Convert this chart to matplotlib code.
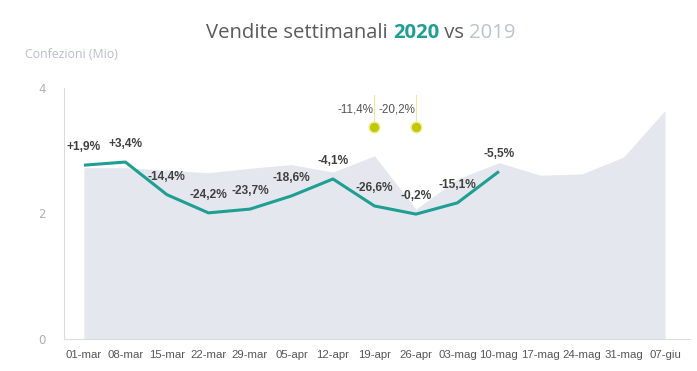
import matplotlib
matplotlib.use("Agg")
import matplotlib.pyplot as plt
from matplotlib import font_manager as fm

names = {f.name for f in fm.fontManager.ttflist}
narrow = "Liberation Sans Narrow" if "Liberation Sans Narrow" in names else "Liberation Sans"

weeks = ["01-mar", "08-mar", "15-mar", "22-mar", "29-mar", "05-apr", "12-apr",
         "19-apr", "26-apr", "03-mag", "10-mag", "17-mag", "24-mag", "31-mag", "07-giu"]
sales_2019 = [2.73, 2.73, 2.69, 2.65, 2.72, 2.78, 2.66, 2.92, 2.07, 2.55, 2.81,
              2.61, 2.63, 2.90, 3.64]
sales_2020 = [2.77, 2.82, 2.30, 2.01, 2.07, 2.28, 2.55, 2.12, 1.99, 2.17, 2.67]
pct_labels = ["+1,9%", "+3,4%", "-14,4%", "-24,2%", "-23,7%", "-18,6%", "-4,1%",
              "-26,6%", "-0,2%", "-15,1%", "-5,5%"]
extra_idx = [7, 8]
extra_labels = ["-11,4%", "-20,2%"]
extra_level = 3.38
yticks = [0, 2, 4]

fig = plt.figure(figsize=(6.97, 3.71), dpi=100)
ax = fig.add_axes([0.0918, 0.0863, 0.898, 0.6765])
x19 = list(range(len(sales_2019)))
x20 = list(range(len(sales_2020)))

ax.fill_between(x19, 0, sales_2019, color="#e4e7ee", lw=0, zorder=1)
ax.plot(x20, sales_2020, color="#1f9e93", lw=2.2, zorder=3, solid_capstyle="butt")

for xi, yi, lab in zip(x20, sales_2020, pct_labels):
    ax.annotate(lab, (xi, yi), xytext=(0, 8.5), textcoords="offset points",
                ha="center", va="bottom", fontsize=8.6, fontweight="bold",
                color="#404040", family=narrow, zorder=4)

for idx, lab in zip(extra_idx, extra_labels):
    ax.plot([idx, idx], [extra_level, 3.89], color="#e8e8a0", lw=0.8, zorder=2)
    ax.scatter([idx], [extra_level], s=80, color="#eef0a8", zorder=3, lw=0)
    ax.scatter([idx], [extra_level], s=45, color="#c2c800", zorder=4, lw=0)
    ax.text(idx - 0.02, 3.665, lab, ha="right", va="center", fontsize=8.4,
            color="#555555", family=narrow)

ax.set_xlim(-0.48, 14.6)
ax.set_ylim(0, 4)
ax.set_xticks(x19)
ax.set_xticklabels(weeks, family=narrow, fontsize=8.2, color="#555555")
ax.set_yticks(yticks)
ax.set_yticklabels([str(t) for t in yticks], fontsize=8.5, color="#b0b0b0")
ax.tick_params(length=0, pad=8)
ax.tick_params(axis="y", pad=13)
for s in ["top", "right"]:
    ax.spines[s].set_visible(False)
for s in ["left", "bottom"]:
    ax.spines[s].set_color("#dcdcdc")
    ax.spines[s].set_linewidth(0.8)

# title with colored parts
title_font = "Open Sans"
fs = 14.6
parts = [("Vendite settimanali ", "#5a5a5a", "normal"),
         ("2020", "#1f9e93", "bold"),
         (" vs ", "#5a5a5a", "normal"),
         ("2019", "#bcc3cc", "normal")]
fig.canvas.draw()
renderer = fig.canvas.get_renderer()
texts = []
widths = []
for s, c, w in parts:
    t = fig.text(0, 0, s, fontsize=fs, color=c, fontweight=w, family=title_font, va="center")
    bb = t.get_window_extent(renderer=renderer)
    texts.append(t)
    widths.append(bb.width)
total = sum(widths)
cx = 361.0
x0 = cx - total / 2
ypix = 371 - 33
for t, w in zip(texts, widths):
    t.set_position((x0 / 697, ypix / 371))
    x0 += w

fig.text(25 / 697, 1 - 55 / 371, "Confezioni (Mio)", fontsize=8.8, color="#b8bdc9",
         family=title_font, va="center", ha="left")

fig.savefig("out.png", dpi=100, facecolor="white")
